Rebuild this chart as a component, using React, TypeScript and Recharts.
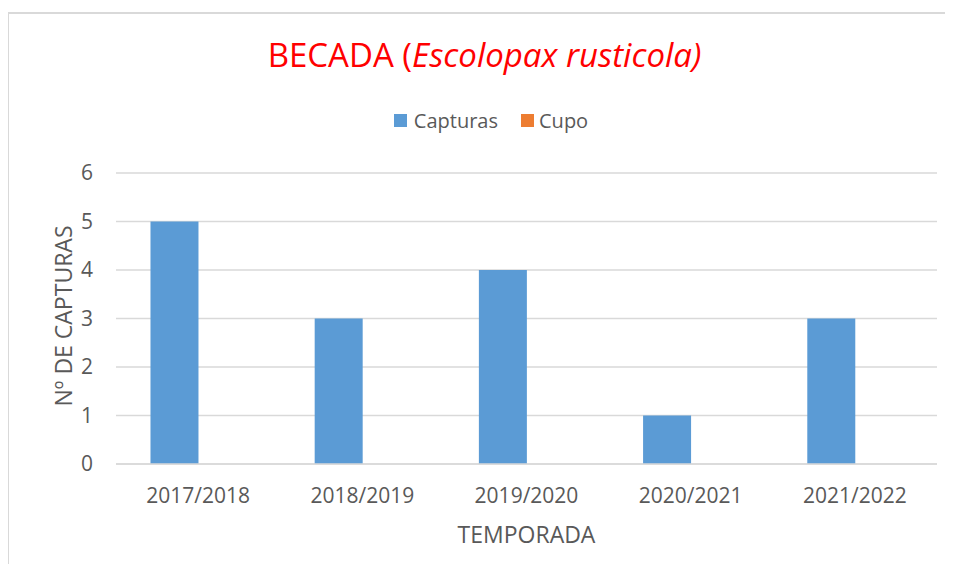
import React from 'react';
import { BarChart, Bar, XAxis, YAxis, CartesianGrid, Legend } from 'recharts';

const temporadas = ['2017/2018', '2018/2019', '2019/2020', '2020/2021', '2021/2022'];
const capturas = [5, 3, 4, 1, 3];
const cupo = [0, 0, 0, 0, 0];
const yTicks = [0, 1, 2, 3, 4, 5, 6];

const data = temporadas.map((t, i) => ({ temporada: t, Capturas: capturas[i], Cupo: cupo[i] }));

const FONT = '"Open Sans", sans-serif';
const TEXT = '#595959';
const GRID = '#d9d9d9';

const W = 944;
const H = 550;
const margin = { top: 159, right: 16, left: 47, bottom: 30 };

function LegendContent({ payload }: any) {
  return (
    <div style={{ display: 'flex', justifyContent: 'center', fontFamily: FONT, fontSize: 20, color: TEXT }}>
      {(payload || []).map((p: any, i: number) => (
        <div key={p.value} style={{ display: 'flex', alignItems: 'center', marginLeft: i ? 23 : 0 }}>
          <span style={{ width: 13, height: 13, background: p.color, marginRight: i ? 5 : 7, display: 'inline-block' }} />
          <span>{p.value}</span>
        </div>
      ))}
    </div>
  );
}

export default function App() {
  return (
    <div
      style={{
        position: 'relative',
        marginTop: 4,
        marginLeft: -1,
        width: W,
        height: H,
        borderLeft: `2px solid ${GRID}`,
        borderTop: `2px solid ${GRID}`,
      }}
    >
      <div
        style={{
          position: 'absolute',
          left: 0,
          top: 24,
          width: 951,
          textAlign: 'center',
          fontFamily: FONT,
          fontSize: 33,
          lineHeight: '33px',
          color: '#ff0000',
        }}
      >
        BECADA (<i>Escolopax rusticola)</i>
      </div>
      <BarChart width={W} height={H} data={data} margin={margin} barCategoryGap="21%" barGap={0}>
        <CartesianGrid vertical={false} stroke={GRID} strokeWidth={1.5} />
        <Legend
          verticalAlign="middle"
          align="center"
          content={<LegendContent />}
          wrapperStyle={{ top: 93, left: 0, width: 964 }}
        />
        <XAxis
          dataKey="temporada"
          height={70}
          tickSize={0}
          tickMargin={24}
          axisLine={{ stroke: GRID, strokeWidth: 1.5 }}
          tick={{ fontFamily: FONT, fontSize: 21, fill: TEXT }}
          label={{
            content: () => (
              <text x={517.5} y={529} textAnchor="middle" fontFamily={FONT} fontSize={23} fill={TEXT}>
                TEMPORADA
              </text>
            ),
          }}
        />
        <YAxis
          width={60}
          domain={[0, 6]}
          ticks={yTicks}
          tickSize={0}
          tickMargin={23}
          axisLine={false}
          tick={{ fontFamily: FONT, fontSize: 21, fill: TEXT }}
          label={{
            content: () => (
              <text
                x={63}
                y={302}
                transform="rotate(-90 63 302)"
                textAnchor="middle"
                fontFamily={FONT}
                fontSize={23}
                fill={TEXT}
              >
                Nº DE CAPTURAS
              </text>
            ),
          }}
        />
        <Bar dataKey="Capturas" fill="#5b9bd5" isAnimationActive={false} />
        <Bar dataKey="Cupo" fill="#ed7d31" isAnimationActive={false} />
      </BarChart>
    </div>
  );
}
